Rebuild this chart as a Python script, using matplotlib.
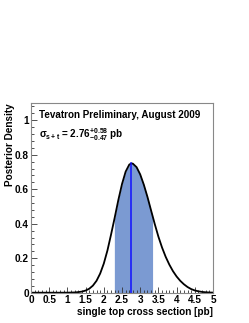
import matplotlib
matplotlib.use("Agg")
import matplotlib.pyplot as plt
from matplotlib.ticker import MultipleLocator
import numpy as np

plt.rcParams['font.family'] = ['Liberation Sans', 'DejaVu Sans']
plt.rcParams['mathtext.fontset'] = 'custom'
plt.rcParams['mathtext.rm'] = 'Liberation Sans:bold'
plt.rcParams['mathtext.it'] = 'Liberation Sans:bold'
plt.rcParams['mathtext.bf'] = 'Liberation Sans:bold'
plt.rcParams['mathtext.sf'] = 'Liberation Sans:bold'

# posterior density
xs = [0.0, 0.5, 0.8, 1.0, 1.1, 1.2, 1.3, 1.4, 1.5, 1.6, 1.7, 1.8, 1.9, 2.0, 2.1, 2.2,
      2.29, 2.3, 2.4, 2.5, 2.6, 2.7, 2.76, 2.8, 2.9, 3.0, 3.1, 3.2, 3.3, 3.34, 3.4,
      3.5, 3.6, 3.7, 3.8, 3.9, 4.0, 4.1, 4.2, 4.3, 4.4, 4.5, 4.6, 4.7, 4.8, 4.9, 5.0]
density = [0.0, 0.0, 0.0, 0.0003, 0.0008, 0.0015, 0.0035, 0.0065, 0.0125, 0.023, 0.041,
           0.069, 0.111, 0.169, 0.245, 0.338, 0.426, 0.436, 0.538, 0.630, 0.702, 0.743,
           0.750, 0.748, 0.728, 0.686, 0.626, 0.555, 0.476, 0.445, 0.398, 0.325, 0.262,
           0.208, 0.163, 0.125, 0.094, 0.069, 0.049, 0.033, 0.021, 0.013, 0.008, 0.0045,
           0.0025, 0.0012, 0.0005]
central = 2.76
band_lo = 2.29
band_hi = 3.34
title_text = "Tevatron Preliminary, August 2009"
result_text = r"$\sigma_{\mathregular{s+t}}$ = 2.76$^{+0.58}_{-0.47}$ pb"

xs = np.array(xs)
density = np.array(density)

fig = plt.figure(figsize=(2.49, 3.23), dpi=100)
ax = fig.add_axes([31/249, 1-292.7/323, (213-31)/249, (292.7-103)/323])

mask = (xs >= band_lo) & (xs <= band_hi)
ax.fill_between(xs[mask], 0, density[mask], color='#7b9ad2', lw=0)
ax.plot(xs, density, color='black', lw=1.3, solid_joinstyle='round')
ax.plot([central, central], [0, density[xs == central][0]], color='#1010ff', lw=1.1)

ax.set_xlim(0, 5)
ax.set_ylim(0, 1.1)
ax.xaxis.set_minor_locator(MultipleLocator(0.1))
ax.yaxis.set_minor_locator(MultipleLocator(0.04))
ax.set_xticks([0, 0.5, 1, 1.5, 2, 2.5, 3, 3.5, 4, 4.5, 5])
ax.set_xticklabels(['0', '0.5', '1', '1.5', '2', '2.5', '3', '3.5', '4', '4.5', '5'])
ax.set_yticks([0, 0.2, 0.4, 0.6, 0.8, 1.0])
ax.set_yticklabels(['0', '0.2', '0.4', '0.6', '0.8', '1'])

ax.tick_params(which='both', direction='in', top=False, right=False, color='#333333', width=0.6)
ax.tick_params(which='major', length=4, pad=1.5, labelsize=7.2)
ax.tick_params(which='minor', length=2)
for lab in ax.get_xticklabels() + ax.get_yticklabels():
    lab.set_fontweight('bold')
for s in ax.spines.values():
    s.set_color('#888888')
    s.set_linewidth(0.8)

ax.set_xlabel('single top cross section [pb]', fontsize=7.2, fontweight='bold', loc='right', labelpad=1.5)
ax.set_ylabel('Posterior Density', fontsize=7.2, fontweight='bold', loc='top', labelpad=0)

ax.text(0.045, 0.965, title_text, transform=ax.transAxes, fontsize=7.1, fontweight='bold', va='top', ha='left')
ax.text(0.045, 0.88, result_text, transform=ax.transAxes, fontsize=7.1, fontweight='bold', va='top', ha='left')

fig.savefig('out.png', dpi=100)
